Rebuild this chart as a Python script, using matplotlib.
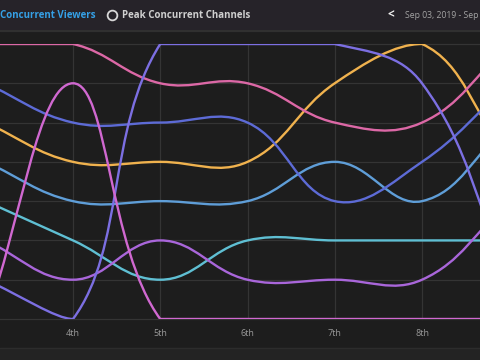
import numpy as np
import matplotlib
matplotlib.use('Agg')
import matplotlib.pyplot as plt
from matplotlib.path import Path
from matplotlib.patches import PathPatch, Rectangle
from matplotlib.lines import Line2D

plt.rcParams['font.family'] = ['Open Sans', 'DejaVu Sans']

# days of September shown on the x axis
days = [3, 4, 5, 6, 7, 8, 9]
day_labels = ['3rd', '4th', '5th', '6th', '7th', '8th', '9th']

# daily rank of each channel (1 = most viewers)
rank_pink = [1, 1, 2, 2, 3, 3, 1]
rank_magenta = [8, 2, 8, 8, 8, 8, 8]
rank_slate = [7, 8, 1, 1, 1, 2, 7]
rank_blue = [2, 3, 3, 3, 5, 4, 2]
rank_yellow = [3, 4, 4, 4, 2, 1, 4]
rank_steel = [4, 5, 5, 5, 4, 5, 3]
rank_cyan = [5, 6, 7, 6, 6, 6, 6]
rank_violet = [6, 7, 6, 7, 7, 7, 5]

series = [
    (rank_cyan, '#5fbfd3'),
    (rank_violet, '#a966da'),
    (rank_steel, '#5f9ed8'),
    (rank_yellow, '#f0b24e'),
    (rank_blue, '#5d6bd6'),
    (rank_pink, '#dc68a6'),
    (rank_slate, '#7c6fe2'),
    (rank_magenta, '#d068d0'),
]


def spline_path(ax, xs, ys, tension=0.4):
    # Chart.js style spline, control points capped to the rank range
    pts = ax.transData.transform(np.column_stack([xs, ys]))
    ytop = ax.transData.transform((xs[0], 1))[1]
    ybot = ax.transData.transform((xs[0], 8))[1]
    lo, hi = min(ytop, ybot), max(ytop, ybot)
    n = len(pts)
    cp_prev = np.zeros_like(pts)
    cp_next = np.zeros_like(pts)
    for i in range(n):
        prev = pts[max(i - 1, 0)]
        cur = pts[i]
        nxt = pts[min(i + 1, n - 1)]
        d01 = np.hypot(*(cur - prev))
        d12 = np.hypot(*(nxt - cur))
        tot = d01 + d12
        s01 = d01 / tot if tot else 0
        s12 = d12 / tot if tot else 0
        cp_prev[i] = cur - tension * s01 * (nxt - prev)
        cp_next[i] = cur + tension * s12 * (nxt - prev)
    cp_prev[:, 1] = np.clip(cp_prev[:, 1], lo, hi)
    cp_next[:, 1] = np.clip(cp_next[:, 1], lo, hi)
    verts = [pts[0]]
    codes = [Path.MOVETO]
    for i in range(n - 1):
        verts += [cp_next[i], cp_prev[i + 1], pts[i + 1]]
        codes += [Path.CURVE4] * 3
    verts = ax.transData.inverted().transform(np.array(verts))
    return Path(verts, codes)


fig = plt.figure(figsize=(4.8, 3.6), dpi=100, facecolor='#1d1d1d')

# header bar and footer strip
fig.patches.append(Rectangle((0, 329 / 360), 1, 31 / 360, transform=fig.transFigure,
                             color='#262329', zorder=0))
fig.add_artist(Line2D([0, 1], [329 / 360, 329 / 360], color='#303030', lw=1.5,
                      transform=fig.transFigure))
fig.patches.append(Rectangle((0, 0), 1, 12 / 360, transform=fig.transFigure,
                             color='#232323', zorder=0))
fig.add_artist(Line2D([0, 1], [12 / 360, 12 / 360], color='#2c2c2c', lw=1,
                      transform=fig.transFigure))

ax = fig.add_axes([0, 41 / 360, 1, 275 / 360])
ax.set_facecolor('#1d1d1d')
ax.set_axisbelow(True)
for s in ax.spines.values():
    s.set_visible(False)
ax.set_yticks(range(1, 9))
ax.set_yticklabels([])
ax.set_xticks(days)
ax.set_xticklabels(day_labels, color='#9a9a9a', fontsize=6.5)
ax.tick_params(length=0, pad=7.5)
ax.set_xlim(4 - 73 / 87.25, 4 + 407 / 87.25)
ax.set_ylim(8, 1)
ax.grid(color='#343434', lw=0.9)
for gl in ax.get_xgridlines() + ax.get_ygridlines():
    gl.set_clip_on(False)

for ranks, col in series:
    p = spline_path(ax, days, ranks)
    ax.add_patch(PathPatch(p, fill=False, edgecolor=col, lw=1.7, zorder=2,
                           capstyle='round', joinstyle='round'))

# header texts
ty = 345 / 360
fig.text(0 / 480, ty, 'Concurrent Viewers', color='#35a0e6', fontsize=7,
         fontweight='bold', va='center', ha='left')
fig.add_artist(Line2D([112 / 480], [ty], marker='o', markersize=7, mfc='none',
                      mec='#d8d8d8', mew=1.3, transform=fig.transFigure))
fig.text(122 / 480, ty, 'Peak Concurrent Channels', color='#cfcfcf', fontsize=7,
         fontweight='bold', va='center', ha='left')
fig.text(387 / 480, ty, '<', color='#f0f0f0', fontsize=8.5, fontweight='bold',
         va='center', ha='left')
fig.text(405 / 480, ty, 'Sep 03, 2019 - Sep 09, 2019', color='#a4a4a4', fontsize=6.2,
         va='center', ha='left')

fig.savefig('out.png', dpi=100, facecolor=fig.get_facecolor())
